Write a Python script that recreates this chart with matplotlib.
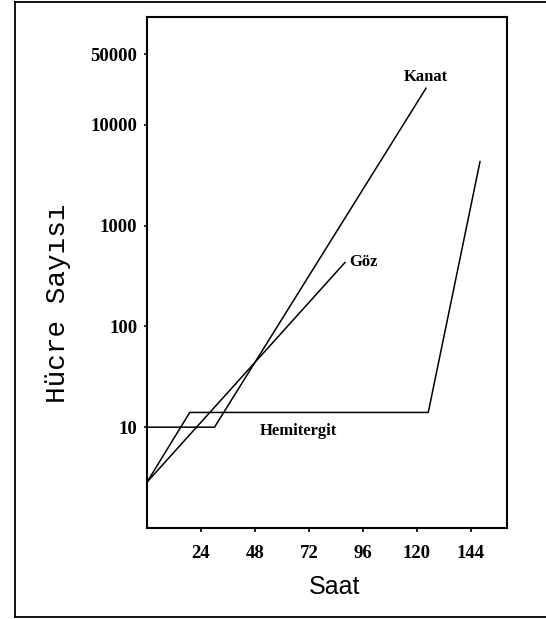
import numpy as np
import matplotlib.pyplot as plt
from matplotlib.lines import Line2D

# hours / cell counts
kanat_t = [0, 30, 124]
kanat_n = [10, 10, 23000]

goz_t = [0, 88]
goz_n = [2.85, 430]

hemi_t = [0, 19, 125, 148]
hemi_n = [2.85, 14, 14, 4300]

xticks = [24, 48, 72, 96, 120, 144]
yticks = [10, 100, 1000, 10000, 50000]
ytick_labels = ["10", "100", "1000", "10000", "50000"]

serif = ["Liberation Serif", "DejaVu Serif"]

fig = plt.figure(figsize=(5.46, 6.19), dpi=100)
ax = fig.add_axes([147 / 546, 1 - 528 / 619, 360 / 546, 511 / 619])

for t, n in [(kanat_t, kanat_n), (goz_t, goz_n), (hemi_t, hemi_n)]:
    ax.plot(t, n, color="black", lw=1.1)

ax.set_yscale("log")
ax.set_xlim(0, 160)
ax.set_ylim(1.0, 1.17e5)

ax.set_xticks(xticks)
ax.set_xticklabels([str(v) for v in xticks], family=serif, fontsize=13.5, fontweight="bold")
ax.set_yticks(yticks)
ax.set_yticklabels(ytick_labels, family=serif, fontsize=13.5, fontweight="bold")
ax.minorticks_off()
ax.tick_params(axis="x", length=3, width=1.2, pad=9)
ax.tick_params(axis="y", length=2, width=1.2, pad=5)

for s in ax.spines.values():
    s.set_linewidth(1.5)

# curve labels
ax.text(114, 29900, "Kanat", family=serif, fontsize=12, fontweight="bold", va="center", ha="left")
ax.text(90, 430, "Göz", family=serif, fontsize=12, fontweight="bold", va="center", ha="left")
ax.text(50, 9.1, "Hemitergit", family=serif, fontsize=12, fontweight="bold", va="center", ha="left")

ax.set_ylabel("Hücre Sayısı", family=["Liberation Mono", "DejaVu Sans Mono"], fontsize=20)
ax.yaxis.set_label_coords((58 - 147) / 360, (528 - 303) / 511)
ax.set_xlabel("Saat", family=["Liberation Sans", "DejaVu Sans"], fontsize=18)
ax.xaxis.set_label_coords((335 - 147) / 360, -(587 - 528) / 511)
ax.xaxis.label.set_va("center")
ax.yaxis.label.set_va("center")

# outer frame of the scanned figure (left, top, bottom)
x0, y0, y1 = 15 / 546, 1 - 617 / 619, 1 - 2 / 619
fig.add_artist(Line2D([x0, x0], [y0, y1], color="black", lw=1.3))
fig.add_artist(Line2D([x0, 1], [y1, y1], color="black", lw=1.3))
fig.add_artist(Line2D([x0, 1], [y0, y0], color="black", lw=1.3))

fig.savefig("out.png", dpi=100)
